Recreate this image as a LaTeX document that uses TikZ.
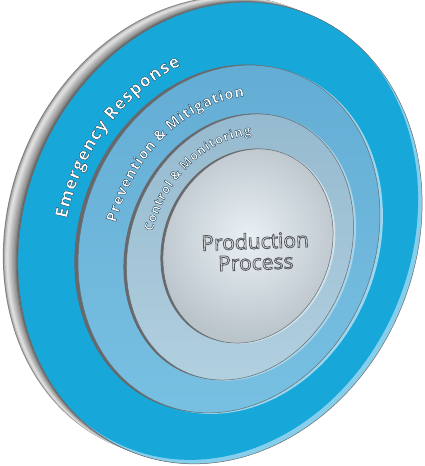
\documentclass[tikz,border=0pt]{standalone}
\usepackage{fontspec}
\newfontfamily\ringfont{Open Sans}
\usetikzlibrary{decorations.text}
\definecolor{faceblue}{HTML}{17A7D9}
\definecolor{facelight}{HTML}{86CFEC}
\definecolor{ringtwoA}{HTML}{62ABD3}
\definecolor{ringtwoB}{HTML}{78C0E2}
\definecolor{ringthreeA}{HTML}{94B8CE}
\definecolor{ringthreeB}{HTML}{B0CFDF}
\definecolor{coreA}{HTML}{EAF1F5}
\definecolor{coreB}{HTML}{BAC4CB}
\definecolor{edgedark}{HTML}{66686C}
\definecolor{bevelone}{HTML}{9AD6F0}
\definecolor{beveltwo}{HTML}{A6D4EA}
\definecolor{bevelthree}{HTML}{CFE2EC}
% outlined text: fill gray #1, stroke rgb #2, stroke width #3
\newcommand\outlon[3]{\special{pdf:literal direct #1 g #2 RG 2 Tr #3 w}}
\newcommand\outloff{\special{pdf:literal direct 0 Tr}}
\newcommand\lk{\kern0.9pt}
\newcommand\ringpath[6]{plot[domain=#5:#6, samples=120] ({#1 + #3*cos(\x)*0.92718 + #4*sin(\x)*0.37461}, {#2 - #3*cos(\x)*0.37461 + #4*sin(\x)*0.92718})}
\begin{document}
\begin{tikzpicture}[x=1pt,y=1pt,
  rotE/.style 2 args={rotate around={-22:(#1,#2)}},
  edgeline/.style={draw=black!58, line width=0.5pt},
  ringlabel/.style 2 args={decorate, decoration={text along path, text align=center,
     text={|\outlon{1}{0.10 0.24 0.32}{0.35}\ringfont\bfseries\fontsize{#1}{#1}\selectfont|#2}}},
  coreline/.style={font=\ringfont\fontsize{21}{21}\selectfont, align=center, rotate=2, inner sep=0pt}
]
\useasboundingbox (0,0) rectangle (425,466);
% ---- rim of the disc ----
\foreach \s/\k in {1/50, 0.93/32, 0.85/18, 0.76/12, 0.67/15, 0.58/21, 0.49/27, 0.40/33, 0.31/39, 0.22/46, 0.14/54, 0.07/62}{
  \begin{scope}[shift={(-15*\s,6*\s)}]
    \fill[black!\k, rotE={220}{233}] (220,233) ellipse [x radius=196, y radius=236];
  \end{scope}
}
% ---- front face ----
\begin{scope}
  \clip[rotE={220}{233}] (220,233) ellipse [x radius=196, y radius=236];
  \fill[facelight] (0,0) rectangle (425,466);
  \fill[faceblue, rotE={216}{237}] (216,237) ellipse [x radius=196, y radius=236];
\end{scope}
\path[edgeline, rotE={220}{233}] (220,233) ellipse [x radius=196, y radius=236];
% ---- ring 2 ----
\fill[bevelone, rotE={232}{226}] (232,226) ellipse [x radius=146, y radius=178];
\fill[edgedark, rotE={225.3}{227.5}] (225.3,227.5) ellipse [x radius=146, y radius=178];
\shade[rotE={229}{227}, top color=ringtwoA, bottom color=ringtwoB] (229,227) ellipse [x radius=146, y radius=178];
\path[edgeline, rotE={229}{227}] (229,227) ellipse [x radius=146, y radius=178];
% ---- ring 3 ----
\fill[beveltwo, rotE={242.5}{218.2}] (242.5,218.2) ellipse [x radius=109.3, y radius=136.5];
\fill[edgedark, rotE={237}{219.4}] (237,219.4) ellipse [x radius=109.3, y radius=136.5];
\shade[rotE={240}{219}, top color=ringthreeA, bottom color=ringthreeB] (240,219) ellipse [x radius=109.3, y radius=136.5];
\path[edgeline, rotE={240}{219}] (240,219) ellipse [x radius=109.3, y radius=136.5];
% ---- core ----
\fill[bevelthree, rotE={250.3}{219.3}] (250.3,219.3) ellipse [x radius=82.5, y radius=99.2];
\fill[edgedark, rotE={245.5}{220.3}] (245.5,220.3) ellipse [x radius=82.5, y radius=99.2];
\shade[rotE={248}{220}, inner color=coreA, outer color=coreB] (248,220) ellipse [x radius=82.5, y radius=99.2];
\path[edgeline, rotE={248}{220}] (248,220) ellipse [x radius=82.5, y radius=99.2];
% ---- core text ----
\node[coreline] (core) at (255.5,214.5) {\outlon{0.91}{0.33 0.34 0.36}{0.8}Production\\Process\outloff};
% ---- ring texts ----
\path[ringlabel={17.5}{E{\lk}m{\lk}e{\lk}r{\lk}g{\lk}e{\lk}n{\lk}c{\lk}y {\lk}R{\lk}e{\lk}s{\lk}p{\lk}o{\lk}n{\lk}s{\lk}e}] \ringpath{226.5}{228.7}{159}{192}{202}{122};
\path[ringlabel={14.5}{P{\lk}r{\lk}e{\lk}v{\lk}e{\lk}n{\lk}t{\lk}i{\lk}o{\lk}n {\lk}{\&} {\lk}M{\lk}i{\lk}t{\lk}i{\lk}g{\lk}a{\lk}t{\lk}i{\lk}o{\lk}n}] \ringpath{236.7}{221.4}{122}{153}{193}{109};
\path[ringlabel={12.5}{C{\lk}o{\lk}n{\lk}t{\lk}r{\lk}o{\lk}l {\lk}{\&} {\lk}M{\lk}o{\lk}n{\lk}i{\lk}t{\lk}o{\lk}r{\lk}i{\lk}n{\lk}g}] \ringpath{245.2}{219.6}{93}{115}{198}{104};
\end{tikzpicture}
\end{document}
